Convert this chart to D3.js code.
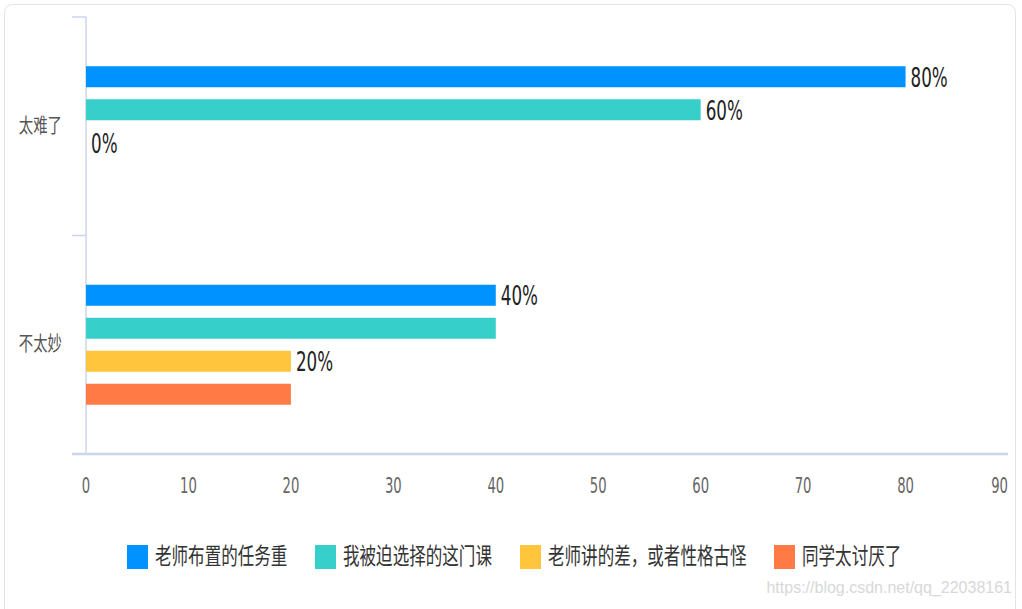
<!DOCTYPE html>
<html><head><meta charset="utf-8">
<script src="https://cdn.jsdelivr.net/npm/d3@7"></script>
<style>body{margin:0;background:#fff;}svg{display:block;}</style>
</head><body>
<svg id="c" width="1022" height="609"></svg>
<script>
const categories = ["太难了", "不太妙"];
const seriesNames = ["老师布置的任务重", "我被迫选择的这门课", "老师讲的差，或者性格古怪", "同学太讨厌了"];
const seriesColors = ["#0092ff", "#36cfc9", "#ffc53d", "#ff7a45"];
const values = [
  [80, 40],
  [60, 40],
  [0, 20],
  [0, 20]
];
const showLabel = [
  [true, true],
  [true, false],
  [true, true],
  [false, false]
];
const xTicks = [0, 10, 20, 30, 40, 50, 60, 70, 80, 90];
const legendX = [127, 315, 520, 774];

const svg = d3.select("#c");
svg.append("rect").attr("x", 4.5).attr("y", 4.5).attr("width", 1011).attr("height", 640)
  .attr("rx", 8).attr("fill", "none").attr("stroke", "#e3e3e3");

const x = d3.scaleLinear().domain([0, 90]).range([86, 1008]);
const y = d3.scaleBand().domain(categories).range([17, 454]);
const barH = 21, step = 33;
const inner = d3.scaleBand().domain(d3.range(seriesNames.length)).range([0, step * seriesNames.length]);
const numFont = "'DejaVu Sans',sans-serif";
const cjkFont = "'Noto Sans CJK SC',sans-serif";

const axisColor = "#ccd6eb";
svg.append("line").attr("x1", 86).attr("x2", 86).attr("y1", 17).attr("y2", 454).attr("stroke", axisColor).attr("stroke-width", 1.5);
[17, y("不太妙")].forEach(p => {
  svg.append("line").attr("x1", 72).attr("x2", 86).attr("y1", p).attr("y2", p).attr("stroke", axisColor).attr("stroke-width", 1.5);
});
svg.append("line").attr("x1", 72).attr("x2", 1008).attr("y1", 454).attr("y2", 454).attr("stroke", axisColor).attr("stroke-width", 2.5);

// x tick labels
svg.append("g").selectAll("text").data(xTicks).join("text")
  .attr("transform", d => `translate(${x(d)},493) scale(0.6,1)`)
  .attr("text-anchor", (d, i) => i === xTicks.length - 1 ? "end" : "middle")
  .attr("font-family", numFont)
  .attr("font-size", 22).attr("fill", "#666")
  .text(d => d);

// category labels
svg.append("g").selectAll("text").data(categories).join("text")
  .attr("transform", d => `translate(62,${y(d) + y.bandwidth() / 2 + 1}) scale(0.72,1)`)
  .attr("text-anchor", "end").attr("dominant-baseline", "middle")
  .attr("font-family", cjkFont).attr("font-size", 20).attr("fill", "#555")
  .text(d => d);

// bars
const groupTop = c => y(c) + (y.bandwidth() - (step * seriesNames.length - (step - barH))) / 2;
seriesNames.forEach((s, si) => {
  const g = svg.append("g");
  g.selectAll("rect").data(categories.map((c, ci) => ({c, v: values[si][ci]}))).join("rect")
    .attr("x", x(0)).attr("y", d => groupTop(d.c) + inner(si))
    .attr("width", d => x(d.v) - x(0)).attr("height", barH)
    .attr("fill", seriesColors[si]);
  g.selectAll("text").data(categories.map((c, ci) => ({c, v: values[si][ci], show: showLabel[si][ci]})).filter(d => d.show)).join("text")
    .attr("transform", d => `translate(${x(d.v) + 5},${groupTop(d.c) + inner(si) + barH / 2 + 2}) scale(0.62,1)`)
    .attr("dominant-baseline", "middle")
    .attr("font-family", numFont)
    .attr("font-size", 27).attr("fill", "#222")
    .text(d => d.v + "%");
});

// legend
seriesNames.forEach((s, si) => {
  svg.append("rect").attr("x", legendX[si]).attr("y", 545).attr("width", 21).attr("height", 24).attr("fill", seriesColors[si]);
  svg.append("text").attr("transform", `translate(${legendX[si] + 28},558) scale(0.72,1)`)
    .attr("dominant-baseline", "middle")
    .attr("font-family", cjkFont).attr("font-size", 23).attr("fill", "#333")
    .text(s);
});

// watermark
svg.append("text").attr("x", 1012).attr("y", 593).attr("text-anchor", "end")
  .attr("font-family", "Arial,'Liberation Sans',sans-serif").attr("font-size", 16).attr("fill", "#d8d8d8")
  .text("https://blog.csdn.net/qq_22038161");
</script>
</body></html>
